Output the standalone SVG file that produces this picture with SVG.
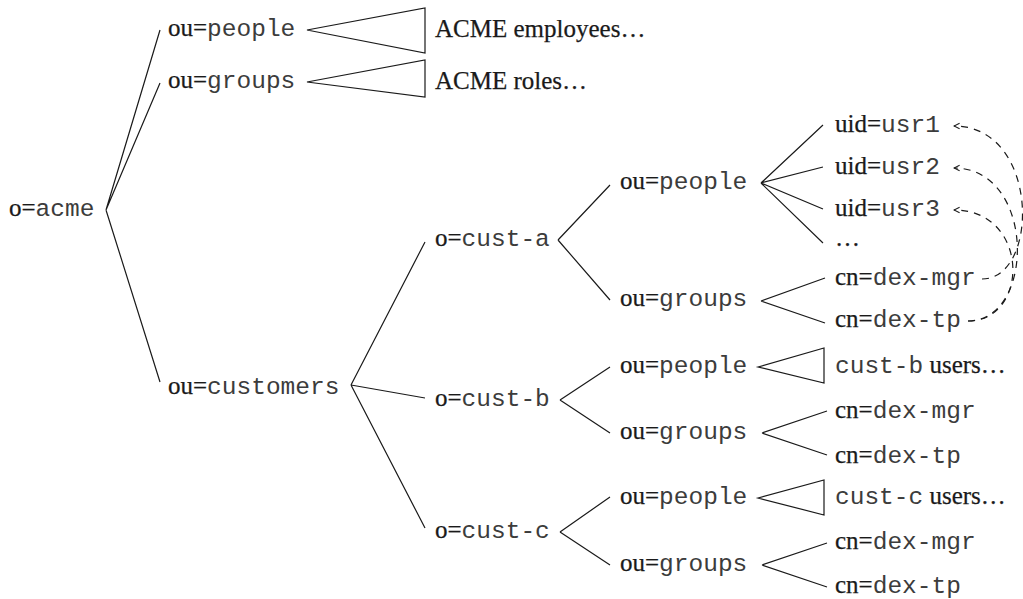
<svg xmlns="http://www.w3.org/2000/svg" width="1023" height="599" viewBox="0 0 1023 599">
<defs>
<style>
text{font-size:25px;fill:#1a1a1a}
.s{font-family:"Liberation Serif","Times New Roman",serif;font-size:25px;stroke:#1a1a1a;stroke-width:0.25}
.m{font-family:"Liberation Mono","Courier New",monospace;font-size:24.5px;fill:#3c3c3c}
.e{stroke:#1a1a1a;stroke-width:1.2;fill:none}
.d{stroke:#1a1a1a;stroke-width:1.2;fill:none;stroke-dasharray:7 6}
.t{stroke:#1a1a1a;stroke-width:1.2;fill:#fff}
</style>
<marker id="ah" viewBox="0 0 10 10" refX="9" refY="5" markerWidth="8" markerHeight="8" orient="auto" markerUnits="userSpaceOnUse">
<path d="M2,1.5 L9,5 L2,8.5" fill="none" stroke="#1a1a1a" stroke-width="1.3"/>
</marker>
</defs>
<rect width="1023" height="599" fill="#fff"/>
<g id="connectors">
<path class="e" d="M106,210 L160,30 M106,210 L160,83 M106,210 L160,382"/>
<path class="e" d="M351,385 L425,242 M351,385 L425,398 M351,385 L425,528"/>
<path class="e" d="M558,240 L610,185 M558,240 L610,300"/>
<path class="e" d="M560,400 L610,367 M560,400 L610,433"/>
<path class="e" d="M560,532 L610,497 M560,532 L610,565"/>
<path class="e" d="M761,183 L823,125 M761,183 L823,167 M761,183 L823,209 M761,183 L823,243"/>
<path class="e" d="M761,301 L825,278 M761,301 L825,323"/>
<path class="e" d="M762,433 L827,411 M762,433 L827,455"/>
<path class="e" d="M762,565 L827,543 M762,565 L827,587"/>
<polygon class="t" points="307,30 425,8 425,53"/>
<polygon class="t" points="307,82 425,60 425,97"/>
<polygon class="t" points="758,367 824,348 824,383"/>
<polygon class="t" points="758,498 824,480 824,515"/>
<path class="d" d="M982,279 C1040,279 1040,126 954,126" marker-end="url(#ah)"/>
<path class="d" d="M968,321 C1036,321 1036,168 954,168" marker-end="url(#ah)"/>
<path class="d" d="M968,321 C1030,321 1030,210 954,210" marker-end="url(#ah)"/>
</g>
<g id="n-acme"><text x="9" y="216"><tspan class="s">o=</tspan><tspan class="m">acme</tspan></text></g>
<g id="n-people"><text x="168" y="36"><tspan class="s">ou=</tspan><tspan class="m">people</tspan></text></g>
<g id="n-groups"><text x="168" y="88"><tspan class="s">ou=</tspan><tspan class="m">groups</tspan></text></g>
<g id="n-acme-emp"><text class="s" x="435" y="37">ACME employees…</text></g>
<g id="n-acme-roles"><text class="s" x="435" y="89">ACME roles…</text></g>
<g id="n-customers"><text x="168" y="394"><tspan class="s">ou=</tspan><tspan class="m">customers</tspan></text></g>
<g id="n-cust-a"><text x="435" y="246"><tspan class="s">o=</tspan><tspan class="m">cust-a</tspan></text></g>
<g id="n-cust-b"><text x="435" y="406"><tspan class="s">o=</tspan><tspan class="m">cust-b</tspan></text></g>
<g id="n-cust-c"><text x="435" y="538"><tspan class="s">o=</tspan><tspan class="m">cust-c</tspan></text></g>
<g id="n-a-people"><text x="620" y="189"><tspan class="s">ou=</tspan><tspan class="m">people</tspan></text></g>
<g id="n-a-groups"><text x="620" y="306"><tspan class="s">ou=</tspan><tspan class="m">groups</tspan></text></g>
<g id="n-b-people"><text x="620" y="373"><tspan class="s">ou=</tspan><tspan class="m">people</tspan></text></g>
<g id="n-b-groups"><text x="620" y="439"><tspan class="s">ou=</tspan><tspan class="m">groups</tspan></text></g>
<g id="n-c-people"><text x="620" y="504"><tspan class="s">ou=</tspan><tspan class="m">people</tspan></text></g>
<g id="n-c-groups"><text x="620" y="571"><tspan class="s">ou=</tspan><tspan class="m">groups</tspan></text></g>
<g id="n-usr1"><text x="835" y="132"><tspan class="s">uid=</tspan><tspan class="m">usr1</tspan></text></g>
<g id="n-usr2"><text x="835" y="174"><tspan class="s">uid=</tspan><tspan class="m">usr2</tspan></text></g>
<g id="n-usr3"><text x="835" y="216"><tspan class="s">uid=</tspan><tspan class="m">usr3</tspan></text></g>
<g id="n-more"><text class="s" x="835" y="246">…</text></g>
<g id="n-a-mgr"><text x="835" y="285"><tspan class="s">cn=</tspan><tspan class="m">dex-mgr</tspan></text></g>
<g id="n-a-tp"><text x="835" y="327"><tspan class="s">cn=</tspan><tspan class="m">dex-tp</tspan></text></g>
<g id="n-b-users"><text x="835" y="373"><tspan class="m">cust-b</tspan><tspan class="s"> users…</tspan></text></g>
<g id="n-b-mgr"><text x="835" y="418"><tspan class="s">cn=</tspan><tspan class="m">dex-mgr</tspan></text></g>
<g id="n-b-tp"><text x="835" y="463"><tspan class="s">cn=</tspan><tspan class="m">dex-tp</tspan></text></g>
<g id="n-c-users"><text x="835" y="504"><tspan class="m">cust-c</tspan><tspan class="s"> users…</tspan></text></g>
<g id="n-c-mgr"><text x="835" y="549"><tspan class="s">cn=</tspan><tspan class="m">dex-mgr</tspan></text></g>
<g id="n-c-tp"><text x="835" y="593"><tspan class="s">cn=</tspan><tspan class="m">dex-tp</tspan></text></g>
</svg>
